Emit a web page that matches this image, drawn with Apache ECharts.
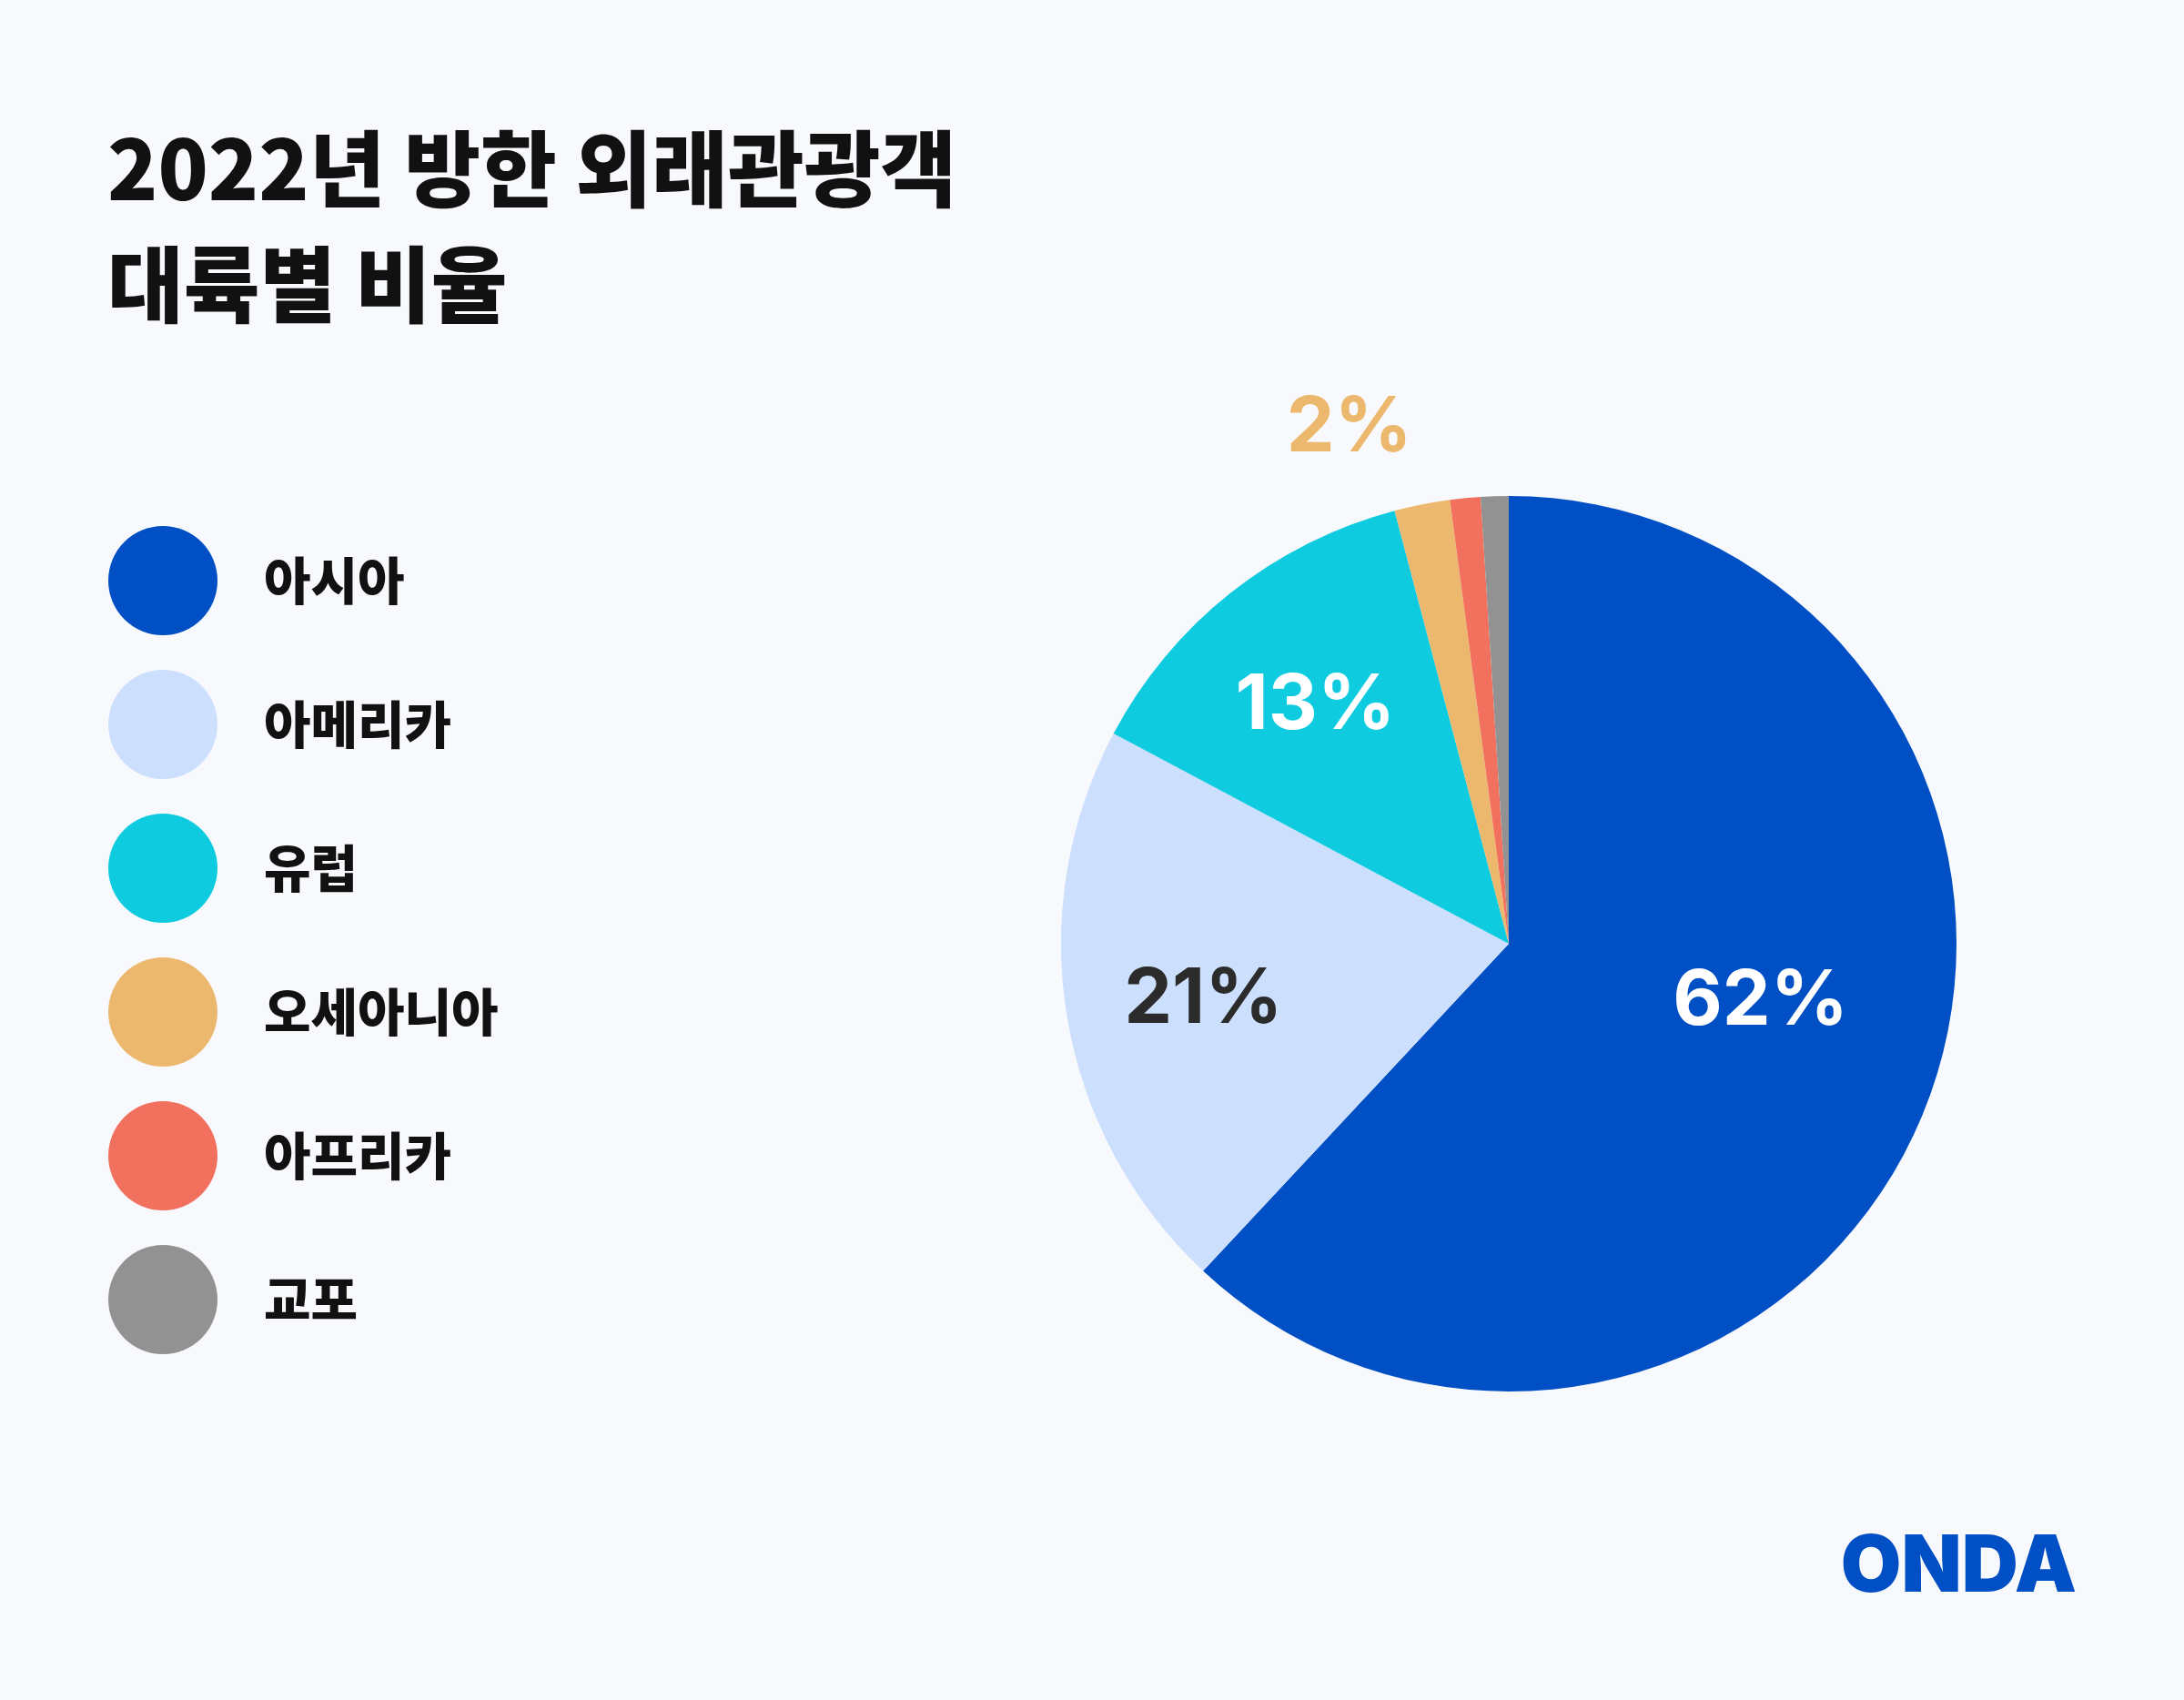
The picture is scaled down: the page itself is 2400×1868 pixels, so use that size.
<!DOCTYPE html>
<html>
<head>
<meta charset="utf-8">
<title>2022년 방한 외래관광객 대륙별 비율</title>
<script src="https://cdn.jsdelivr.net/npm/echarts@6/dist/echarts.min.js"></script>
<style>
  html, body { margin: 0; padding: 0; background: #f8f9fd; }
  #chart { width: 2400px; height: 1868px; }
</style>
</head>
<body>
<div id="chart"></div>
<script>
// 대륙별 비율 (%)
const continents = ['아시아', '아메리카', '유럽', '오세아니아', '아프리카', '교포'];
const shares = [61.9, 20.8, 13.1, 2.0, 1.1, 1.0];
const colors = ['#004fc5', '#cce0fd', '#0fcbe0', '#ecb86e', '#f2705e', '#929292'];
const labelColors = ['#ffffff', '#2b2b2b', '#ffffff', '#ecb86e', '#ffffff', '#ffffff'];
const showLabel = [true, true, true, true, false, false];
// 라벨 위치 미세 조정 (inside 기본 위치 기준)
const labelShift = [[45, -28], [-90, 21], [-58, -66], [-127, -322], [0, 0], [0, 0]];

let chartDom = document.getElementById('chart');
let myChart = echarts.init(chartDom);

let option = {
    backgroundColor: '#f8f9fd',
    animation: false,
    title: {
        text: '2022년 방한 외래관광객\n대륙별 비율',
        left: 118,
        top: 122,
        padding: 0,
        textStyle: {
            fontFamily: 'Noto Sans CJK KR',
            fontWeight: 900,
            fontSize: 91,
            lineHeight: 127,
            color: '#111111'
        }
    },
    legend: {
        orient: 'vertical',
        left: 119,
        top: 578,
        icon: 'circle',
        itemWidth: 120,
        itemHeight: 120,
        itemGap: 38,
        padding: 0,
        data: continents,
        textStyle: {
            fontFamily: 'Noto Sans CJK KR',
            fontWeight: 900,
            fontSize: 56,
            color: '#111111',
            padding: [0, 0, 0, 46]
        }
    },
    graphic: [
        {
            type: 'text',
            right: 118,
            top: 1680,
            style: {
                text: 'ONDA',
                fontFamily: 'Inter',
                fontWeight: 900,
                fontSize: 86,
                fill: '#004fc5'
            }
        }
    ],
    series: [
        {
            type: 'pie',
            center: [1658, 1037],
            radius: 492,
            startAngle: 90,
            clockwise: true,
            silent: true,
            itemStyle: { borderWidth: 0 },
            label: {
                show: true,
                position: 'inside',
                fontFamily: 'Inter',
                fontWeight: 'bold',
                fontSize: 84,
                formatter: function (params) {
                    return Math.round(params.percent) + '%';
                }
            },
            labelLine: { show: false },
            labelLayout: function (params) {
                let s = labelShift[params.dataIndex];
                return { dx: s[0], dy: s[1] };
            },
            data: continents.map(function (name, i) {
                return {
                    name: name,
                    value: shares[i],
                    itemStyle: { color: colors[i] },
                    label: { show: showLabel[i], color: labelColors[i] }
                };
            })
        }
    ]
};
myChart.setOption(option);

window.addEventListener('resize', function () {
    myChart.resize();
});
</script>
</body>
</html>
